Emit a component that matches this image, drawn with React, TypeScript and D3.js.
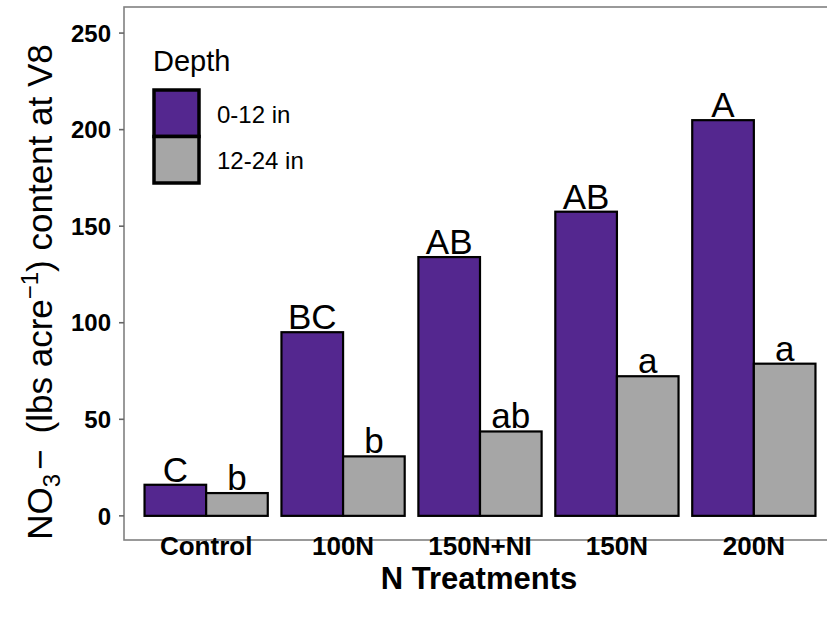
import React from "react";
import * as d3 from "d3";

// N treatments and NO3 content
const treatments = ["Control", "100N", "150N+NI", "150N", "200N"];
const depths = ["0-12 in", "12-24 in"];
const shallow = [16.1, 95.1, 134.0, 157.5, 204.9];
const deep = [11.8, 30.8, 43.7, 72.3, 78.8];
const shallowLetters = ["C", "BC", "AB", "AB", "A"];
const deepLetters = ["b", "b", "ab", "a", "a"];
const yTicks = [0, 50, 100, 150, 200, 250];

const colors = { "0-12 in": "#54278f", "12-24 in": "#a6a6a6" };
const font = "'Liberation Sans', Arial, sans-serif";

const App = () => {
  const width = 827, height = 620;
  const panel = { left: 124, top: 7, right: 836, bottom: 540 };

  const x = d3.scaleBand()
    .domain(treatments)
    .range([panel.left, panel.right])
    .paddingInner(0.1)
    .paddingOuter(0.15);

  const xInner = d3.scaleBand()
    .domain(depths)
    .range([0, x.bandwidth()]);

  const y = d3.scaleLinear()
    .domain([-12.5, 263.5])
    .range([panel.bottom, panel.top]);

  const rows = treatments.flatMap((t, i) => [
    { t, depth: depths[0], value: shallow[i], letter: shallowLetters[i] },
    { t, depth: depths[1], value: deep[i], letter: deepLetters[i] },
  ]);

  return (
    <svg width={width} height={height} style={{ position: "absolute", left: 0, top: 0, background: "#fff" }}
      fontFamily={font}>
      {/* panel border */}
      <rect x={panel.left} y={panel.top} width={panel.right - panel.left} height={panel.bottom - panel.top}
        fill="none" stroke="#808080" strokeWidth={1.6} />

      {/* bars */}
      {rows.map((d, i) => (
        <rect key={i}
          x={x(d.t) + xInner(d.depth)}
          y={y(d.value)}
          width={xInner.bandwidth()}
          height={y(0) - y(d.value)}
          fill={colors[d.depth]}
          stroke="#000" strokeWidth={2.2} />
      ))}

      {/* significance letters */}
      {rows.map((d, i) => (
        <text key={"l" + i}
          x={x(d.t) + xInner(d.depth) + xInner.bandwidth() / 2}
          y={y(d.value) - 3}
          textAnchor="middle" fontSize={35} fill="#000">{d.letter}</text>
      ))}

      {/* y axis */}
      {yTicks.map((t) => (
        <g key={t}>
          <line x1={panel.left - 5} x2={panel.left} y1={y(t)} y2={y(t)} stroke="#666" strokeWidth={1.6} />
          <text x={panel.left - 13} y={y(t)} dy="0.36em" textAnchor="end" fontSize={24} fontWeight="bold">{t}</text>
        </g>
      ))}

      {/* x axis */}
      {treatments.map((t) => {
        const cx = x(t) + x.bandwidth() / 2;
        return (
          <g key={t}>
            <line x1={cx} x2={cx} y1={panel.bottom} y2={panel.bottom + 5} stroke="#666" strokeWidth={1.6} />
            <text x={cx} y={555} textAnchor="middle" fontSize={26} fontWeight="bold">{t}</text>
          </g>
        );
      })}

      <text x={479} y={589} textAnchor="middle" fontSize={31} fontWeight="bold">N Treatments</text>

      <text transform={`translate(52,292) rotate(-90)`} textAnchor="middle" fontSize={35}>
        NO<tspan dy="8" fontSize={24}>3</tspan><tspan dy="-8" dx="4">−</tspan>
        <tspan dx="16">(lbs acre</tspan>
        <tspan dy="-14" fontSize={24}>−1</tspan><tspan dy="14">) content at V8</tspan>
      </text>

      {/* legend */}
      <text x={153} y={71} fontSize={29}>Depth</text>
      {depths.map((d, i) => (
        <g key={d}>
          <rect x={154} y={90 + i * 46.5} width={45} height={46.5} fill={colors[d]} stroke="#000" strokeWidth={3.5} />
          <text x={217} y={123 + i * 46} fontSize={24}>{d}</text>
        </g>
      ))}
    </svg>
  );
};

export default App;
